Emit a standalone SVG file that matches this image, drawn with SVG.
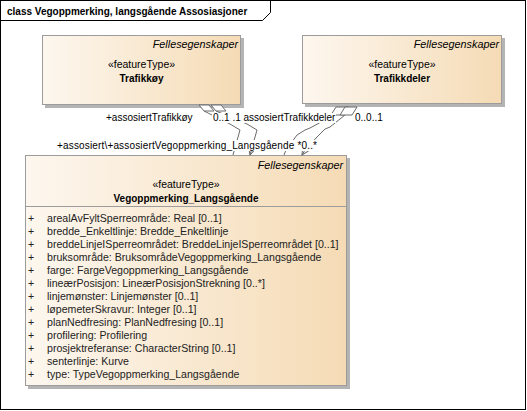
<svg xmlns="http://www.w3.org/2000/svg" width="527" height="411" viewBox="0 0 527 411">
<style>
text{font-family:"Liberation Sans",Arial,sans-serif;fill:#000}
.title{font-size:10px;font-weight:bold}
.fs{font-size:10.8px;font-style:italic;text-anchor:end}
.st{font-size:10.5px;text-anchor:middle}
.nm{font-size:10px;font-weight:bold;text-anchor:middle}
.at{font-size:10.6px;fill:#222}
.lb{font-size:10px}
.box{fill:url(#g);stroke:#9c9c9c;stroke-width:1}
.sh{fill:#b4b4b4}
.ln{fill:none;stroke:#6a6a6a;stroke-width:1}
.dm{fill:#fff;stroke:#6a6a6a;stroke-width:1}
.bg{fill:#fff}
</style>
<defs>
<linearGradient id="g" x1="0" y1="0" x2="1" y2="0">
<stop offset="0" stop-color="#fdf7ef"/>
<stop offset="1" stop-color="#f5dbb5"/>
</linearGradient>
<marker id="ar" viewBox="-8 -5 9 10" refX="0" refY="0" markerWidth="9" markerHeight="10" markerUnits="userSpaceOnUse" orient="auto">
<path d="M-7,-3.5 L0,0 L-7,3.5" fill="none" stroke="#6a6a6a" stroke-width="1"/>
</marker>
</defs>
<rect width="527" height="411" fill="#fff"/>
<g id="frame">
<rect x="0.5" y="0.5" width="525" height="409" fill="none" stroke="#000"/>
<path d="M0.5,20.5 H262.5 L270.5,12.5 V0.5" fill="none" stroke="#000"/>
<text class="title" x="7" y="14.5">class Vegoppmerking, langsgående Assosiasjoner</text>
</g>
<g id="Trafikkoy">
<rect class="sh" x="45" y="38" width="199" height="70"/>
<rect class="box" x="42.5" y="35.5" width="198" height="69"/>
<text class="fs" x="238" y="48">Fellesegenskaper</text>
<text class="st" x="141.5" y="67.5">«featureType»</text>
<text class="nm" x="141.5" y="81.5">Trafikkøy</text>
</g>
<g id="Trafikkdeler">
<rect class="sh" x="305" y="38" width="200" height="69"/>
<rect class="box" x="302.5" y="35.5" width="199" height="68"/>
<text class="fs" x="499" y="48">Fellesegenskaper</text>
<text class="st" x="402" y="67.5">«featureType»</text>
<text class="nm" x="402" y="81.5">Trafikkdeler</text>
</g>
<g id="Vegoppmerking_Langsgaende">
<rect class="sh" x="28" y="158" width="322" height="231"/>
<rect class="box" x="25.5" y="155.5" width="321" height="230"/>
<line x1="25.5" y1="206.5" x2="346.5" y2="206.5" stroke="#9c9c9c"/>
<text class="fs" x="343" y="169">Fellesegenskaper</text>
<text class="st" x="186" y="187.5">«featureType»</text>
<text class="nm" x="186" y="201.5">Vegoppmerking_Langsgående</text>
<g class="at">
<text class="at" x="28" y="221.5">+</text><text class="at" x="47" y="221.5">arealAvFyltSperreområde: Real [0..1]</text>
<text class="at" x="28" y="234.5">+</text><text class="at" x="47" y="234.5">bredde_Enkeltlinje: Bredde_Enkeltlinje</text>
<text class="at" x="28" y="247.5">+</text><text class="at" x="47" y="247.5">breddeLinjeISperreområdet: BreddeLinjeISperreområdet [0..1]</text>
<text class="at" x="28" y="260.5">+</text><text class="at" x="47" y="260.5">bruksområde: BruksområdeVegoppmerking_Langsgående</text>
<text class="at" x="28" y="273.5">+</text><text class="at" x="47" y="273.5">farge: FargeVegoppmerking_Langsgående</text>
<text class="at" x="28" y="286.5">+</text><text class="at" x="47" y="286.5">lineærPosisjon: LineærPosisjonStrekning [0..*]</text>
<text class="at" x="28" y="299.5">+</text><text class="at" x="47" y="299.5">linjemønster: Linjemønster [0..1]</text>
<text class="at" x="28" y="312.5">+</text><text class="at" x="47" y="312.5">løpemeterSkravur: Integer [0..1]</text>
<text class="at" x="28" y="325.5">+</text><text class="at" x="47" y="325.5">planNedfresing: PlanNedfresing [0..1]</text>
<text class="at" x="28" y="338.5">+</text><text class="at" x="47" y="338.5">profilering: Profilering</text>
<text class="at" x="28" y="351.5">+</text><text class="at" x="47" y="351.5">prosjektreferanse: CharacterString [0..1]</text>
<text class="at" x="28" y="364.5">+</text><text class="at" x="47" y="364.5">senterlinje: Kurve</text>
<text class="at" x="28" y="377.5">+</text><text class="at" x="47" y="377.5">type: TypeVegoppmerking_Langsgående</text>
</g>
</g>
<g id="connectors">
<path class="ln" d="M204,111 L230,124 L240,130 L233,155"/>
<path class="ln" d="M216,111 L247,124 L257,130 L250,155" marker-end="url(#ar)"/>
<path class="ln" d="M334,115 L310,128 L305,130 L297,135 L286,150 L284,155"/>
<path class="ln" d="M345,115 L330,127 L325,129 L317,137 L305,150 L302,155" marker-end="url(#ar)"/>
<polygon class="dm" points="199,105 209,105 214,111 204,111"/>
<polygon class="dm" points="211,105 221,105 226,111 216,111"/>
<polygon class="dm" points="331,115 336,107 349,107 344,115"/>
<polygon class="dm" points="340,115 345,107 357,107 352,115"/>
<g id="labels">
<rect class="bg" x="212" y="113" width="124" height="10"/>
<rect class="bg" x="56" y="140" width="264" height="11"/>
<text class="lb" x="106" y="120.5">+assosiertTrafikkøy</text>
<text class="lb" x="213" y="120.5">0..1</text>
<text class="lb" x="232.5" y="120.5">.1</text>
<text class="lb" x="243.5" y="120.5">assosiertTrafikkdeler</text>
<text class="lb" x="355" y="120.5">0..0..1</text>
<text class="lb" x="57" y="149" textLength="260" lengthAdjust="spacing">+assosiert\+assosiertVegoppmerking_Langsgående *0..*</text>
</g>
</g>
</svg>
